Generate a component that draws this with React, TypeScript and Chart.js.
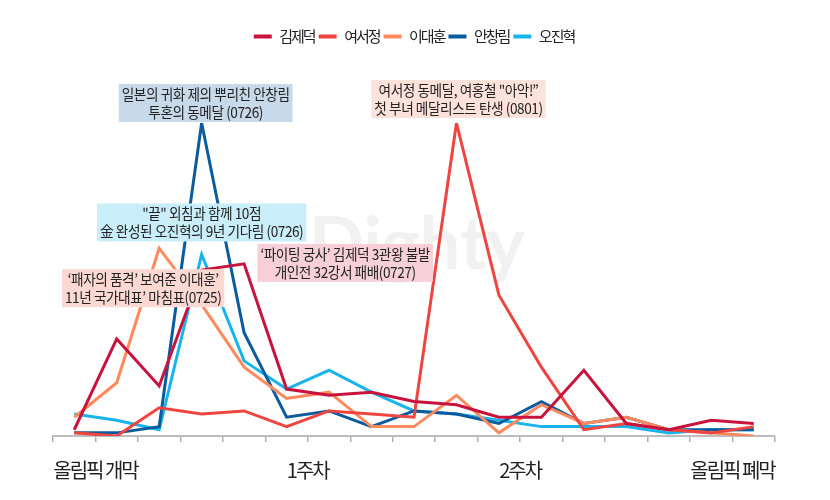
import { useEffect, useRef } from 'react';
import { Chart, registerables } from 'chart.js';

Chart.register(...registerables);

// one point per day, opening (0723) to closing (0808)
const days = [
  '0723', '0724', '0725', '0726', '0727', '0728', '0729', '0730', '0731',
  '0801', '0802', '0803', '0804', '0805', '0806', '0807', '0808',
];

const athletes = ['김제덕', '여서정', '이대훈', '안창림', '오진혁'];

const kimJeDeok = [2, 31, 16, 53, 55, 15, 13, 14, 11, 10, 6, 6, 21, 4, 2, 5, 4];
const yeoSeoJeong = [1, 0, 9, 7, 8, 3, 8, 7, 6, 100, 45, 22, 2, 4, 2, 1, 3];
const leeDaeHoon = [6, 17, 60, 42, 22, 12, 14, 3, 3, 13, 1, 10, 4, 6, 2, 1, 0];
const ahnChangRim = [1, 1, 3, 100, 33, 6, 8, 3, 8, 7, 4, 11, 4, 6, 2, 2, 2];
const ohJinHyeok = [7, 5, 2, 58, 24, 15, 21, 14, 8, 7, 5, 3, 3, 3, 1, 2, 2];

const lineColors = ['#c8143c', '#ee4540', '#ff8a5e', '#0b5b9f', '#19b4ec'];

// x labels sit on the boundary after these days
const tickLabels = ['올림픽 개막', '1주차', '2주차', '올림픽 폐막'];
const tickAfterDay = ['0723', '0728', '0802', '0807'];

const notes = [
  { athlete: '안창림', day: '0726', lines: ['일본의 귀화 제의 뿌리친 안창림', '투혼의 동메달 (0726)'] },
  { athlete: '오진혁', day: '0726', lines: ['"끝" 외침과 함께 10점', '金 완성된 오진혁의 9년 기다림 (0726)'] },
  { athlete: '이대훈', day: '0725', lines: ['‘패자의 품격’ 보여준 이대훈’', '11년 국가대표’ 마침표(0725)'] },
  { athlete: '김제덕', day: '0727', lines: ['‘파이팅 궁사’ 김제덕 3관왕 불발', '개인전 32강서 패배(0727)'] },
  { athlete: '여서정', day: '0801', lines: ['여서정 동메달, 여홍철 "아악!”', '첫 부녀 메달리스트 탄생 (0801)'] },
];

// box placement relative to the noted point: centre offset and bottom offset
const noteLayout = [
  { bg: '#c8dae9', dx: 4, dy: -1 },
  { bg: '#c9eef9', dx: 0, dy: -13 },
  { bg: '#fbd9d2', dx: -16, dy: 59 },
  { bg: '#f6cfd9', dx: 101, dy: 18 },
  { bg: '#fde2dc', dx: 2, dy: -5 },
];

const FONT = '"Noto Sans CJK KR", "Noto Sans", sans-serif';
const seriesValues = [kimJeDeok, yeoSeoJeong, leeDaeHoon, ahnChangRim, ohJinHyeok];

const tightText = {
  id: 'tightText',
  beforeUpdate(chart: any) {
    chart.ctx.letterSpacing = '-2px';
  },
  beforeDraw(chart: any) {
    chart.ctx.letterSpacing = '-2px';
  },
};

const legendGap = {
  id: 'legendGap',
  beforeInit(chart: any) {
    const legend = chart.legend;
    if (!legend) return;
    const fit = legend.fit;
    legend.fit = function () {
      fit.call(this);
      this.height += 69;
    };
  },
};

const watermark = {
  id: 'watermark',
  beforeDatasetsDraw(chart: any) {
    const { ctx, chartArea } = chart;
    ctx.save();
    ctx.letterSpacing = '0px';
    ctx.font = `bold 72px Lato, "Open Sans", sans-serif`;
    ctx.fillStyle = '#f1f1f1';
    ctx.textAlign = 'center';
    ctx.textBaseline = 'alphabetic';
    ctx.fillText('Dighty', (chartArea.left + chartArea.right) / 2 + 3, chartArea.top + 146);
    ctx.restore();
  },
};

const noteBoxes = {
  id: 'noteBoxes',
  afterDatasetsDraw(chart: any) {
    const { ctx } = chart;
    const xs = chart.scales.x;
    const ys = chart.scales.y;
    const sx = 0.91;
    const lineH = 18;
    notes.forEach((note, n) => {
      const lay = noteLayout[n];
      const s = athletes.indexOf(note.athlete);
      const d = days.indexOf(note.day);
      const px = xs.getPixelForValue(d + 0.5);
      const py = ys.getPixelForValue(seriesValues[s][d]);
      ctx.save();
      ctx.font = `15px ${FONT}`;
      ctx.letterSpacing = '-0.5px';
      const w = Math.max(...note.lines.map((l) => ctx.measureText(l).width)) * sx + 6;
      const h = lineH * note.lines.length + 2;
      const cx = px + lay.dx;
      const bottom = py + lay.dy;
      const top = bottom - h;
      ctx.fillStyle = lay.bg;
      ctx.fillRect(cx - w / 2, top, w, h);
      ctx.fillStyle = '#222';
      ctx.textAlign = 'center';
      ctx.textBaseline = 'middle';
      note.lines.forEach((l, k) => {
        ctx.save();
        ctx.translate(cx, top + 10 + k * lineH);
        ctx.scale(sx, 1);
        ctx.fillText(l, 0, 0);
        ctx.restore();
      });
      ctx.restore();
    });
  },
};

export default function App() {
  const canvasRef = useRef<HTMLCanvasElement>(null);
  const chartRef = useRef<Chart | null>(null);

  useEffect(() => {
    if (!canvasRef.current) return;
    if (chartRef.current) chartRef.current.destroy();

    Chart.defaults.font.family = FONT;

    const tickAt = tickAfterDay.map((d) => days.indexOf(d) + 1);

    chartRef.current = new Chart(canvasRef.current, {
      type: 'line',
      data: {
        datasets: athletes.map((name, s) => ({
          label: name,
          data: seriesValues[s].map((v, i) => ({ x: i + 0.5, y: v })),
          borderColor: lineColors[s],
          backgroundColor: lineColors[s],
          borderWidth: 3,
          pointRadius: 0,
          tension: 0,
          fill: false,
        })),
      },
      options: {
        responsive: false,
        animation: false,
        layout: { padding: { top: 25, left: 53, right: 55, bottom: 2 } },
        scales: {
          x: {
            type: 'linear',
            min: 0,
            max: days.length,
            border: { display: true, color: '#bdbdbd', width: 2 },
            grid: {
              display: true,
              drawOnChartArea: false,
              drawTicks: true,
              tickLength: 6,
              color: '#b0b0b0',
              lineWidth: 1.5,
            },
            ticks: {
              stepSize: 1,
              autoSkip: false,
              maxRotation: 0,
              padding: 16,
              color: '#222',
              font: { size: 20, family: FONT },
              callback: (value: any) => {
                const k = tickAt.indexOf(Number(value));
                return k >= 0 ? tickLabels[k] : '';
              },
            },
          },
          y: {
            display: false,
            min: 0,
            max: 100,
          },
        },
        plugins: {
          legend: {
            position: 'top',
            labels: {
              boxWidth: 18,
              boxHeight: 4,
              padding: 4,
              color: '#222',
              font: { size: 15, family: FONT },
              generateLabels: (chart: any) =>
                Chart.defaults.plugins.legend.labels
                  .generateLabels(chart)
                  .map((l: any) => ({ ...l, lineWidth: 0 })),
            },
          },
          tooltip: { enabled: false },
        },
      },
      plugins: [tightText, legendGap, watermark, noteBoxes],
    });

    return () => {
      if (chartRef.current) {
        chartRef.current.destroy();
        chartRef.current = null;
      }
    };
  }, []);

  return (
    <div style={{ position: 'absolute', left: 0, top: 0, width: 830, height: 500, background: '#fff' }}>
      <canvas ref={canvasRef} width={830} height={500} style={{ display: 'block' }} />
    </div>
  );
}
